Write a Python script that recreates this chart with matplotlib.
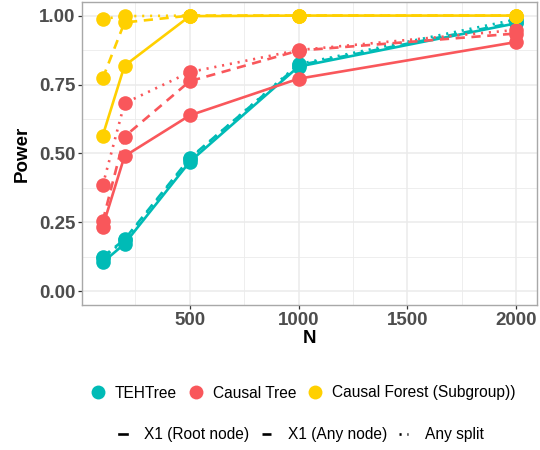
import matplotlib
matplotlib.use("Agg")
import matplotlib.pyplot as plt
from matplotlib.lines import Line2D
from matplotlib.ticker import MultipleLocator

plt.rcParams["font.family"] = ["Liberation Sans", "DejaVu Sans"]

N = [100, 200, 500, 1000, 2000]

# power by method and detection criterion
teh_root = [0.105, 0.172, 0.470, 0.815, 0.972]
teh_any = [0.125, 0.188, 0.483, 0.820, 0.976]
teh_split = [0.120, 0.185, 0.480, 0.824, 0.986]

ct_root = [0.235, 0.490, 0.638, 0.771, 0.904]
ct_any = [0.255, 0.561, 0.762, 0.873, 0.935]
ct_split = [0.385, 0.682, 0.795, 0.875, 0.948]

cf_root = [0.565, 0.818, 0.998, 1.0, 1.0]
cf_any = [0.773, 0.975, 1.0, 1.0, 1.0]
cf_split = [0.988, 0.998, 1.0, 1.0, 1.0]

methods = ["TEHTree", "Causal Tree", "Causal Forest (Subgroup))"]
criteria = ["X1 (Root node)", "X1 (Any node)", "Any split"]
colors = ["#00BBB6", "#F9575B", "#FFD000"]
styles = ["-", (0, (3.5, 2.5)), (0, (0.8, 2.2))]

series = [
    [teh_root, teh_any, teh_split],
    [ct_root, ct_any, ct_split],
    [cf_root, cf_any, cf_split],
]

fig = plt.figure(figsize=(5.4, 4.5), dpi=100)
ax = fig.add_axes([0.152, 0.322, 0.842, 0.674])

for m, col in enumerate(colors):
    for c, ls in enumerate(styles):
        ax.plot(N, series[m][c], color=col, linestyle=ls, lw=1.9,
                marker="o", markersize=10.5, markeredgewidth=0)

ax.set_xlim(5, 2095)
ax.set_ylim(-0.05, 1.05)
ax.set_xticks([500, 1000, 1500, 2000])
ax.xaxis.set_minor_locator(MultipleLocator(250))
ax.set_yticks([0, 0.25, 0.5, 0.75, 1.0])
ax.set_yticklabels(["0.00", "0.25", "0.50", "0.75", "1.00"])
ax.yaxis.set_minor_locator(MultipleLocator(0.125))
ax.grid(which="major", color="#EBEBEB", lw=1.1)
ax.grid(which="minor", color="#EBEBEB", lw=0.6)
ax.set_axisbelow(True)
for s in ax.spines.values():
    s.set_color("#A8A8A8")
    s.set_linewidth(1.0)
ax.tick_params(which="major", length=3, width=0.9, color="#333333",
               labelsize=13.5, labelcolor="#4D4D4D", pad=2)
ax.tick_params(which="minor", length=0)
for lab in ax.get_xticklabels() + ax.get_yticklabels():
    lab.set_fontweight("bold")
ax.set_xlabel("N", fontsize=13.5, fontweight="bold", labelpad=1)
ax.set_ylabel("Power", fontsize=13.5, fontweight="bold", labelpad=6)

h1 = [Line2D([], [], color=c, marker="o", markersize=10, lw=0, markeredgewidth=0)
      for c in colors]
fig.legend(h1, methods, loc="center", bbox_to_anchor=(0.562, 1 - 393 / 450),
           ncol=3, frameon=False, fontsize=11.2, handlelength=0.8,
           handletextpad=0.7, columnspacing=0.8)

h2 = [Line2D([], [], color="black", linestyle=ls, lw=1.9) for ls in styles]
fig.legend(h2, criteria, loc="center", bbox_to_anchor=(0.558, 1 - 435 / 450),
           ncol=3, frameon=False, fontsize=11.2, handlelength=0.55,
           handletextpad=1.1, columnspacing=0.8)

fig.savefig("out.png", dpi=100)
